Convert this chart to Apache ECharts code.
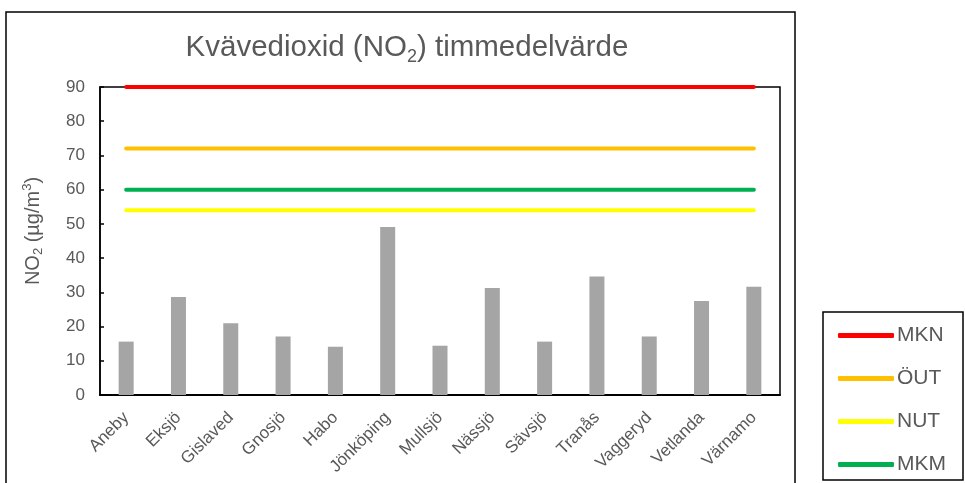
<!DOCTYPE html>
<html>
<head>
<meta charset="utf-8">
<script src="https://cdn.jsdelivr.net/npm/echarts@6/dist/echarts.min.js"></script>
<style>html,body{margin:0;padding:0;background:#fff}#c{width:965px;height:483px}</style>
</head>
<body>
<div id="c"></div>
<script>
var categories = ['Aneby','Eksjö','Gislaved','Gnosjö','Habo','Jönköping','Mullsjö','Nässjö','Sävsjö','Tranås','Vaggeryd','Vetlanda','Värnamo'];
var no2Values = [15.6, 28.6, 21.0, 17.1, 14.1, 49.1, 14.4, 31.3, 15.6, 34.6, 17.1, 27.5, 31.6];
var mknValue = 90;
var outValue = 72;
var nutValue = 54;
var mkmValue = 60;
var yTicks = [0,10,20,30,40,50,60,70,80,90];

function flat(v){ return categories.map(function(){ return v; }); }

var font = 'Liberation Sans, Arial, sans-serif';
var grey = '#595959';
var chart = echarts.init(document.getElementById('c'), null, {renderer:'canvas'});
var lineSeries = function(name, v, color){
  return {name:name, type:'line', data:flat(v), symbol:'none', color:color,
    lineStyle:{width:4, color:color, cap:'round'}, z:3, animation:false};
};
chart.setOption({
  backgroundColor:'#fff',
  animation:false,
  title:{
    text:'{a|Kvävedioxid (NO}{s|2}{a|) timmedelvärde}',
    left:402, textAlign:'center', top:25,
    textStyle:{rich:{
      a:{fontFamily:font, fontSize:29.5, color:grey, fontWeight:'normal', lineHeight:36},
      s:{fontFamily:font, fontSize:18, color:grey, fontWeight:'normal', verticalAlign:'bottom', lineHeight:18}
    }}
  },
  legend:{
    data:['MKN','ÖUT','NUT','MKM'],
    orient:'vertical', left:833, top:320,
    itemWidth:56, itemHeight:5, itemGap:22, icon:'roundRect',
    textStyle:{fontFamily:font, fontSize:21, color:grey, padding:[0,0,0,-2]}
  },
  graphic:[
    {type:'rect', shape:{x:6, y:12, width:789, height:480}, style:{fill:'none', stroke:'#000', lineWidth:1.5}, silent:true},
    {type:'rect', shape:{x:823, y:312, width:140, height:168}, style:{fill:'none', stroke:'#000', lineWidth:1.5}, silent:true}
  ],
  grid:{left:100, right:185, top:87, bottom:88, show:true, borderColor:'#000', borderWidth:1.5},
  xAxis:{
    type:'category', data:categories,
    axisLine:{lineStyle:{color:'#000', width:2}},
    axisTick:{show:false},
    axisLabel:{interval:0, rotate:45, fontFamily:font, fontSize:17, color:grey, margin:20}
  },
  yAxis:{
    type:'value', min:yTicks[0], max:yTicks[yTicks.length-1], interval:10,
    name:'{a|NO}{s|2}{a| (µg/m}{p|3}{a|)}', nameLocation:'middle', nameGap:55, nameRotate:90,
    nameTextStyle:{padding:[0,0,0,20], rich:{
      a:{fontFamily:font, fontSize:20, color:grey, lineHeight:24},
      s:{fontFamily:font, fontSize:13, color:grey, verticalAlign:'bottom', lineHeight:13},
      p:{fontFamily:font, fontSize:13, color:grey, verticalAlign:'top', lineHeight:13}
    }},
    axisLine:{show:true, lineStyle:{color:'#000', width:1.5}},
    axisTick:{show:true, inside:true, length:4, lineStyle:{color:'#000', width:1.5}},
    splitLine:{show:false},
    axisLabel:{fontFamily:font, fontSize:17, color:grey, margin:15}
  },
  series:[
    {name:'NO2', type:'bar', data:no2Values, barWidth:15, itemStyle:{color:'#A5A5A5'}, z:2},
    lineSeries('MKN', mknValue, '#FF0000'),
    lineSeries('ÖUT', outValue, '#FFC000'),
    lineSeries('NUT', nutValue, '#FFFF00'),
    lineSeries('MKM', mkmValue, '#00B050')
  ]
});
</script>
</body>
</html>
